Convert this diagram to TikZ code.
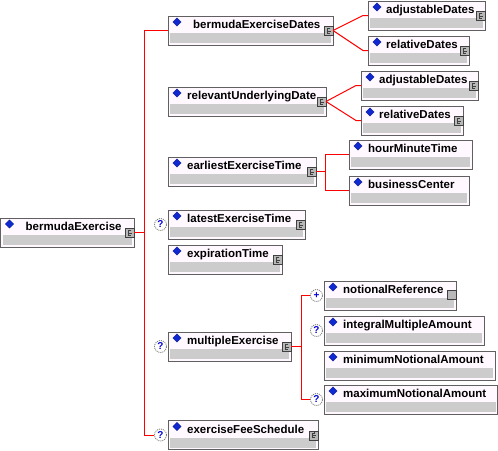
\documentclass[tikz,border=0pt]{standalone}
\usepackage{fontspec}
\setmainfont{Liberation Sans}
\usetikzlibrary{shapes.geometric}
\definecolor{boxfill}{HTML}{FFF8FF}
\definecolor{bandgray}{HTML}{CCCCCC}
\definecolor{boxline}{HTML}{606060}
\definecolor{connred}{HTML}{FF0000}
\definecolor{diamblue}{HTML}{1028D0}
\definecolor{iconfill}{HTML}{B8B8B8}
\tikzset{
  elembox/.style={draw=boxline, fill=boxfill, line width=1pt, rectangle, inner sep=0pt, outer sep=0pt, minimum height=29pt},
  band/.style={fill=bandgray},
  elemtext/.style={inner sep=0pt, font=\bfseries\fontsize{11.5}{13}\selectfont},
  diam/.style={diamond, inner sep=0pt, minimum width=8.5pt, minimum height=8.5pt, fill=diamblue, draw=diamblue!70!black, line width=0.4pt},
  cicon/.style={rectangle, inner sep=0pt, minimum size=9pt, draw=black!75, fill=iconfill, line width=0.8pt,
    path picture={
      \draw[line width=0.7pt] ([xshift=1.8pt,yshift=2.3pt]path picture bounding box.center) -- ++(-3pt,0) -- ++(0,-4.6pt) -- ++(3pt,0);
      \draw[line width=0.7pt] ([xshift=-0.4pt]path picture bounding box.center) -- ++(2.4pt,0);
      \draw[line width=0.7pt] ([xshift=0.6pt,yshift=3.2pt]path picture bounding box.center) -- ++(0,-1.6pt);
    }},
  sicon/.style={rectangle, inner sep=0pt, minimum size=9pt, draw=black!75, fill=iconfill, line width=0.8pt},
  qicon/.style={circle, inner sep=0pt, minimum size=12pt, draw=black!55, dash pattern=on 1pt off 1pt, line width=0.8pt, fill=white, text=blue!85!black, font=\bfseries\fontsize{10}{10}\selectfont},
  conn/.style={draw=connred, line width=1pt},
}
% #1 name, #2 left, #3 top, #4 right, #5 text, #6 text offset
\newcommand\elemnode[6]{%
  \node[elembox, minimum width={#4-#2}, anchor=north west] (#1) at (#2,#3) {};
  \fill[band] ([xshift=2pt,yshift=2pt]#1.south west) rectangle ([xshift=-2pt,yshift=12pt]#1.south east);
  \node[elemtext, anchor=base west] (#1-t) at ([xshift=#6pt,yshift=-12.5pt]#1.north west) {#5};
  \node[diam] (#1-d) at ([xshift=9pt,yshift=-6pt]#1.north west) {};
}
\newcommand\cmark[1]{\node[cicon] (#1-c) at ([xshift=-4.5pt,yshift=-15pt]#1.north east) {};}
\newcommand\smark[1]{\node[sicon] (#1-c) at ([xshift=-4.5pt,yshift=-14pt]#1.north east) {};}
\newcommand\qmark[1]{\node[qicon] (#1-q) at ([xshift=-7.5pt]#1.west) {?};}
\newcommand\pmark[1]{\node[qicon] (#1-q) at ([xshift=-7.5pt]#1.west) {+};}
\begin{document}
\begin{tikzpicture}[x=1pt,y=-1pt]
\useasboundingbox (0,0) rectangle (498,450);
\fill[white] (0,0) rectangle (498,450);
% junction coordinates
\coordinate (jx) at (144,0);
\coordinate (eetj) at (325,0);
\coordinate (mej) at (301,0);
% elements
\elemnode{root}{0.5}{218}{134}{bermudaExercise}{25}\cmark{root}
\elemnode{bed}{168}{16}{333}{bermudaExerciseDates}{25}\cmark{bed}
\elemnode{bedadj}{368}{1}{485}{adjustableDates}{18}\cmark{bedadj}
\elemnode{bedrel}{368}{36}{469}{relativeDates}{18}\cmark{bedrel}
\elemnode{rud}{168}{87}{326}{relevantUnderlyingDate}{19}\cmark{rud}
\elemnode{rudadj}{361}{71}{478}{adjustableDates}{18}\cmark{rudadj}
\elemnode{rudrel}{361}{106}{463}{relativeDates}{18}\cmark{rudrel}
\elemnode{eet}{168}{157}{316}{earliestExerciseTime}{19}\cmark{eet}
\elemnode{hmt}{349}{140}{472}{hourMinuteTime}{19}
\elemnode{bc}{349}{176}{469}{businessCenter}{19}
\elemnode{let}{168}{210}{305}{latestExerciseTime}{19}\cmark{let}\qmark{let}
\elemnode{et}{168}{245}{282}{expirationTime}{19}\cmark{et}
\elemnode{me}{168}{332}{291}{multipleExercise}{19}\cmark{me}\qmark{me}
\elemnode{nr}{324}{281}{456}{notionalReference}{19}\smark{nr}\pmark{nr}
\elemnode{ima}{324}{316}{484}{integralMultipleAmount}{19}\qmark{ima}
\elemnode{mna}{324}{351}{495}{minimumNotionalAmount}{19}
\elemnode{xna}{324}{385}{497.5}{maximumNotionalAmount}{19}\qmark{xna}
\elemnode{efs}{168}{420.5}{318}{exerciseFeeSchedule}{19}\cmark{efs}\qmark{efs}
% connectors
\draw[conn] (root.east) -- (root.east -| jx);
\draw[conn] (bed.west) -| (jx |- efs-q) -- (efs-q.west);
\draw[conn] (bed.east) -- ([xshift=-5pt]bedadj.west) -- (bedadj.west);
\draw[conn] (bed.east) -- ([xshift=-5pt]bedrel.west) -- (bedrel.west);
\draw[conn] (rud.east) -- ([xshift=-5pt]rudadj.west) -- (rudadj.west);
\draw[conn] (rud.east) -- ([xshift=-5pt]rudrel.west) -- (rudrel.west);
\draw[conn] (eet.east) -- (eet.east -| eetj);
\draw[conn] (hmt.west) -| (eetj |- bc.west) -- (bc.west);
\draw[conn] (me.east) -- (me.east -| mej);
\draw[conn] (nr-q.west) -| (mej |- xna-q) -- (xna-q.west);
\end{tikzpicture}
\end{document}
